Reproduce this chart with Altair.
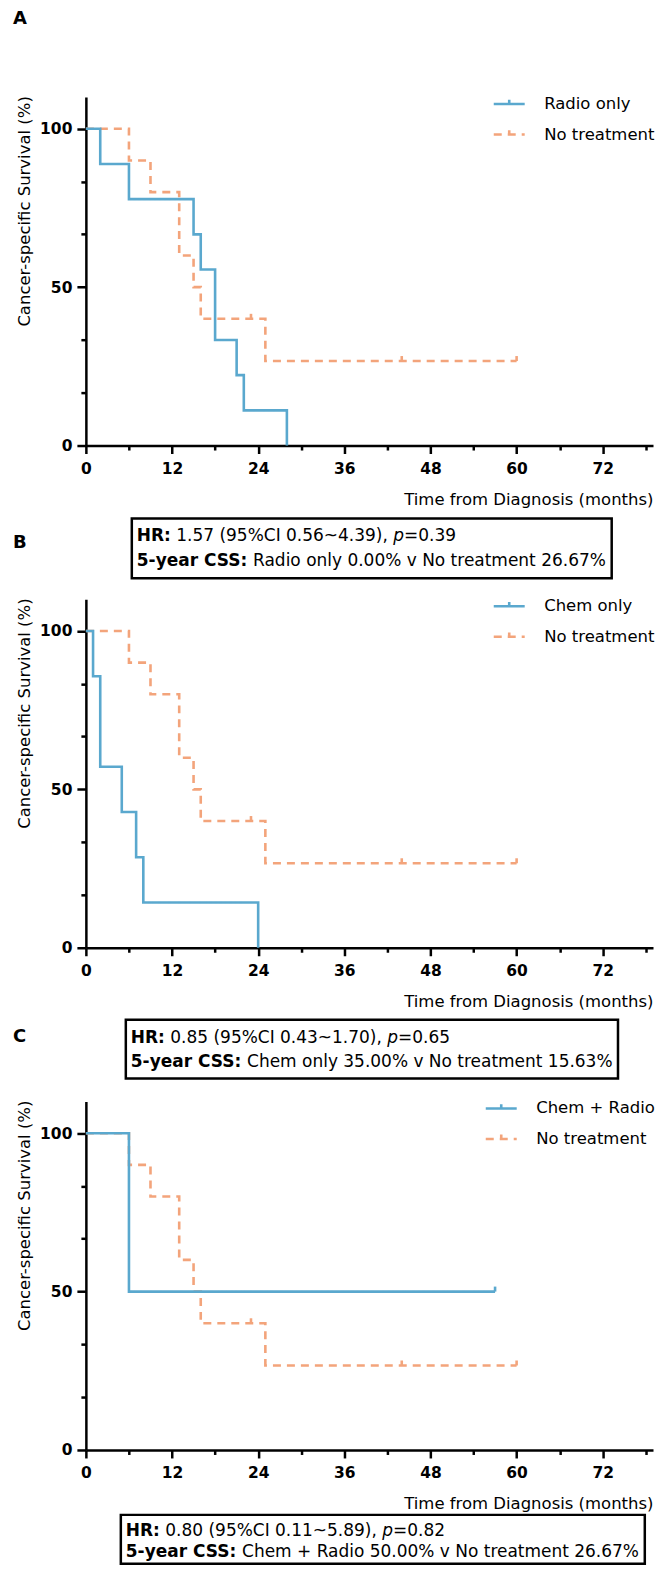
import altair as alt
import pandas as pd

FONT = "DejaVu Sans"
BLUE = "#5AA8CE"
ORANGE = "#F3A47B"

# ---------------- data ----------------
nt_time = [0, 6, 9, 13, 15, 16, 25, 60]
nt_surv = [100, 90, 80, 60, 50, 40, 26.67, 26.67]
nt_cens_time = [23, 44, 60]
nt_cens_surv = [40, 26.67, 26.67]

radio_time = [0, 2, 6, 15, 16, 18, 21, 22, 28]
radio_surv = [100, 88.89, 77.78, 66.67, 55.56, 33.33, 22.22, 11.11, 0]
radio_cens_time = []
radio_cens_surv = []

chem_time = [0, 1, 2, 5, 7, 8, 24]
chem_surv = [100, 85.71, 57.14, 42.86, 28.57, 14.29, 0]
chem_cens_time = []
chem_cens_surv = []

cr_time = [0, 6, 57]
cr_surv = [100, 50, 50]
cr_cens_time = [57]
cr_cens_surv = [50]

groups = ["Radio only", "Chem only", "Chem + Radio"]
letters = ["A", "B", "C"]
hr_text = ["1.57 (95%CI 0.56~4.39),", "0.85 (95%CI 0.43~1.70),", "0.80 (95%CI 0.11~5.89),"]
p_text = ["=0.39", "=0.65", "=0.82"]
css_text = ["Radio only 0.00% v No treatment 26.67%",
            "Chem only 35.00% v No treatment 15.63%",
            "Chem + Radio 50.00% v No treatment 26.67%"]

x_ticks = list(range(0, 79, 3))
y_ticks = [0, 16.6667, 33.3333, 50, 66.6667, 83.3333, 100]

# ---------------- layout ----------------
W, H = 568, 349
TXT = 17
TICK_FS = 15.5

REG = {' ': 318, '%': 950, '(': 390, ')': 390, '+': 838, ',': 318, '-': 361, '.': 318,
       ':': 337, '=': 838, '~': 838, 'C': 698, 'I': 295, 'N': 748, 'R': 695, 'S': 635,
       'H': 752, 'a': 613, 'c': 550, 'd': 635, 'e': 615, 'h': 634, 'i': 278, 'l': 278,
       'm': 974, 'n': 634, 'o': 612, 'p': 635, 'r': 411, 's': 521, 't': 392, 'v': 592,
       'y': 592}
for d in "0123456789":
    REG[d] = 636
BOLD = {' ': 348, 'H': 838, 'R': 770, ':': 400, '5': 696, '-': 415, 'y': 652, 'e': 678,
        'a': 675, 'r': 493, 'C': 734, 'S': 720}


def tw(s, table, size):
    return sum(table.get(c, 620) for c in s) / 1000.0 * size


def text_layer(txt, x, y, size, weight="normal", style="normal", align="left"):
    return alt.Chart(pd.DataFrame({"t": [txt]})).mark_text(
        align=align, baseline="middle", font=FONT, fontSize=size,
        fontWeight=weight, fontStyle=style, color="black"
    ).encode(x=alt.value(x), y=alt.value(y), text="t:N")


def xaxis():
    return alt.Axis(
        values=x_ticks,
        labelExpr="datum.value % 12 === 0 ? datum.label : ''",
        tickSize={"condition": {"test": "datum.value % 12 === 0", "value": 8}, "value": 4.5},
        tickWidth=2.5, tickColor="black", domainColor="black", domainWidth=2.5,
        labelFont=FONT, labelFontSize=TICK_FS, labelFontWeight="bold", labelColor="black",
        labelPadding=8, labelFlush=False, labelOverlap=False, grid=False,
        title="Time from Diagnosis (months)", titleFont=FONT, titleFontSize=16.5,
        titleFontWeight="normal", titleColor="black", titleAnchor="end",
        titleAlign="right", titleX=W, titleY=54, titleBaseline="middle",
    )


def yaxis():
    test = "datum.value === 0 || datum.value === 50 || datum.value === 100"
    return alt.Axis(
        values=y_ticks,
        labelExpr="(" + test + ") ? datum.label : ''",
        tickSize={"condition": {"test": test, "value": 9}, "value": 5},
        tickWidth=2.5, tickColor="black", domainColor="black", domainWidth=2.5,
        labelFont=FONT, labelFontSize=TICK_FS, labelFontWeight="bold", labelColor="black",
        labelPadding=5, labelFlush=False, labelOverlap=False, grid=False,
        title="Cancer-specific Survival (%)", titleFont=FONT, titleFontSize=16.5,
        titleFontWeight="normal", titleColor="black", titleAngle=270,
        titleX=-61, titleY=114, titleAlign="center", titleBaseline="middle",
    )


def panel(i, g_time, g_surv, g_ct, g_cs, letter_y, box_left, legend_x, box_y, line_y):
    group = groups[i]
    dom = [group, "No treatment"]
    df = pd.DataFrame({
        "time": nt_time + g_time,
        "surv": nt_surv + g_surv,
        "group": ["No treatment"] * len(nt_time) + [group] * len(g_time),
    })
    legend = alt.Legend(
        title=None, orient="none", legendX=legend_x, legendY=-10, direction="vertical",
        symbolType="M-1,0L1,0M0,0L0,-0.28", symbolSize=961, symbolStrokeWidth=2.6,
        labelFont=FONT, labelFontSize=16.5, labelColor="black", labelOffset=18,
        rowPadding=4.5, padding=0, labelLimit=400,
    )
    xe = alt.X("time:Q", scale=alt.Scale(domain=[0, 79], nice=False, zero=False), axis=xaxis())
    ye = alt.Y("surv:Q", scale=alt.Scale(domain=[0, 110], nice=False, zero=False), axis=yaxis())
    col = alt.Color("group:N", scale=alt.Scale(domain=dom, range=[BLUE, ORANGE]), legend=legend)
    dash = alt.StrokeDash("group:N", scale=alt.Scale(domain=dom, range=[[1, 0], [8, 6]]), legend=legend)
    base = alt.Chart(df)
    layers = []
    for g in ["No treatment", group]:
        layers.append(
            base.transform_filter(alt.datum.group == g)
            .mark_line(interpolate="step-after", strokeWidth=2.6)
            .encode(x=xe, y=ye, color=col, strokeDash=dash)
        )
    for ct, cs, c in [(nt_cens_time, nt_cens_surv, ORANGE), (g_ct, g_cs, BLUE)]:
        if ct:
            layers.append(
                alt.Chart(pd.DataFrame({"time": ct, "surv": cs}))
                .mark_point(shape="M0,0L0,-1", size=100, filled=False, color=c,
                            strokeWidth=2.6, opacity=1)
                .encode(x="time:Q", y="surv:Q")
            )
    # panel letter
    layers.append(text_layer(letters[i], -73, letter_y, 18, weight="bold"))
    # annotation box
    y1, y2 = line_y
    x0 = box_left + 5
    sp = tw(" ", REG, TXT)
    x = x0
    layers.append(text_layer("HR:", x, y1, TXT, weight="bold"))
    x += tw("HR:", BOLD, TXT) + sp
    layers.append(text_layer(hr_text[i], x, y1, TXT))
    x += tw(hr_text[i], REG, TXT) + sp
    layers.append(text_layer("p", x, y1, TXT, style="italic"))
    x += tw("p", REG, TXT)
    layers.append(text_layer(p_text[i], x, y1, TXT))
    x = x0
    layers.append(text_layer("5-year CSS:", x, y2, TXT, weight="bold"))
    x += tw("5-year CSS:", BOLD, TXT) + sp
    layers.append(text_layer(css_text[i], x, y2, TXT))
    x_end = x + tw(css_text[i], REG, TXT)
    layers.append(
        alt.Chart(pd.DataFrame({"a": [0]})).mark_rect(
            fill="transparent", stroke="black", strokeWidth=2.5
        ).encode(x=alt.value(box_left), x2=alt.value(x_end + 5),
                 y=alt.value(box_y[0]), y2=alt.value(box_y[1]))
    )
    return alt.layer(*layers).properties(width=W, height=H)


pA = panel(0, radio_time, radio_surv, radio_cens_time, radio_cens_surv, -78.5, 46, 407,
           (422, 482), (440, 465))
pB = panel(1, chem_time, chem_surv, chem_cens_time, chem_cens_surv, -56, 40, 407,
           (421, 480), (439, 463))
pC = panel(2, cr_time, cr_surv, cr_cens_time, cr_cens_surv, -65, 35, 399,
           (414, 463), (430, 451))

chart = (
    alt.vconcat(pA, pB, pC, spacing=154, bounds="flush")
    .resolve_scale(color="independent", strokeDash="independent")
    .resolve_legend(color="independent", strokeDash="independent")
    .properties(padding={"left": 5, "top": 0, "right": 0, "bottom": 0}, background="white")
    .configure_view(strokeWidth=0)
)

chart.save("out.html", embed_options={"renderer": "svg", "actions": False})
